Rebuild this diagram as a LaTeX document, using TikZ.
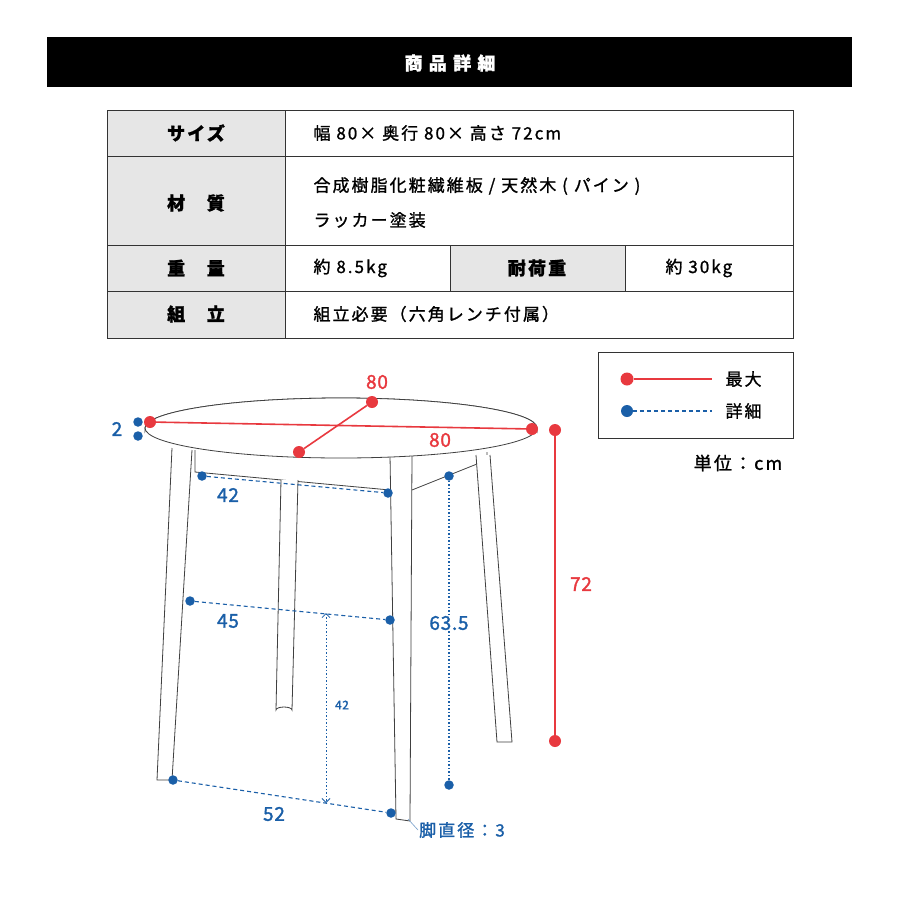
\documentclass[tikz,border=0pt]{standalone}
\usepackage{fontspec}
\setmainfont[LetterSpace=12,FakeBold=1.2]{Noto Sans CJK JP}
\newfontfamily\numfont[LetterSpace=4,FakeBold=1.5]{Noto Sans CJK JP}
\usetikzlibrary{arrows.meta}
\definecolor{rd}{HTML}{E8393F}
\definecolor{bl}{HTML}{1A5FA8}
\definecolor{gr}{HTML}{E6E6E6}
\begin{document}
\begin{tikzpicture}[x=1pt,y=-1pt,
  cell/.style={draw=black!80,line width=1pt},
  txt/.style={anchor=west,font=\fontsize{17}{22}\selectfont},
  lab/.style={font=\fontsize{18}{22}\selectfont\bfseries},
  ln/.style={draw=black!75,line width=0.8pt},
  rdot/.style={circle,fill=rd,inner sep=0pt,minimum size=12pt},
  bdot/.style={circle,fill=bl,inner sep=0pt,minimum size=9.5pt},
  rline/.style={draw=rd,line width=1.6pt},
  bline/.style={draw=bl,line width=1.1pt,dash pattern=on 4pt off 3pt},
  bdots/.style={draw=bl,line width=1.1pt,dash pattern=on 1.5pt off 2pt},
  rnum/.style={text=rd,font=\numfont\fontsize{19}{20}\selectfont},
  bnum/.style={text=bl,font=\numfont\fontsize{19}{20}\selectfont}]
\useasboundingbox (0,0) rectangle (900,900);
\fill[white] (0,0) rectangle (900,900);
% header
\fill[black] (47,37) rectangle (852,87);
\node[text=white,font=\fontsize{18}{20}\selectfont\bfseries] (hd) at (450,63) {商\hspace{0.35em}品\hspace{0.35em}詳\hspace{0.35em}細};
% table
\fill[gr] (107,110) rectangle (285,338);
\fill[gr] (450,245) rectangle (625,291);
\draw[cell] (107,110) rectangle (793,338);
\draw[cell] (107,156) -- (793,156) (107,245) -- (793,245) (107,291) -- (793,291);
\draw[cell] (285,110) -- (285,338) (450,245) -- (450,291) (625,245) -- (625,291);
\node[lab] (l1) at (196,133) {サイズ};
\node[lab] (l2) at (196,203) {材\hspace{1.2em}質};
\node[lab] (l3) at (196,268) {重\hspace{1.2em}量};
\node[lab] (l4) at (196,314) {組\hspace{1.2em}立};
\node[lab] (l5) at (537,268) {耐荷重};
\node[txt] (t1) at (310,133) {幅 80× 奥行 80× 高さ 72cm};
\node[txt] (t2) at (310,186) {合成樹脂化粧繊維板 / 天然木 ( パイン )};
\node[txt] (t3) at (310,220) {ラッカー塗装};
\node[txt] (t4) at (310,268) {約 8.5kg};
\node[txt] (t5) at (662,268) {約 30kg};
\node[txt] (t6) at (310,314) {組立必要（六角レンチ付属）};
% legend
\draw[cell] (598,352) rectangle (793,438);
\node[rdot,minimum size=13pt] (lr1) at (627,379) {};
\coordinate (lr2) at (712,379);
\draw[rline] (lr1) -- (lr2);
\node[txt] (lg1) at (722,379) {最大};
\node[bdot,minimum size=12pt] (lb1) at (627,411) {};
\coordinate (lb2) at (712,411);
\draw[bline] (lb1) -- (lb2);
\node[txt] (lg2) at (722,411) {詳細};
\node[font=\fontsize{18}{20}\selectfont] (unit) at (738,463) {単位：cm};
% table drawing
\draw[ln] (195,450) -- (195,472) -- (390,490);
\draw[ln] (412,490) -- (487,460) -- (487,452);
% legs
\draw[ln,fill=white] (281,480) -- (276,710) arc[start angle=180,end angle=360,x radius=8,y radius=3] -- (298,480);
\draw[ln,fill=white] (476,455) -- (497,742) -- (512,742) -- (490,455);
\draw[ln,fill=white] (172,448) -- (157,780) -- (172,780) -- (192,450);
\draw[ln,fill=white] (390,455) -- (396,819) -- (410,821) -- (412,455);
% top
\draw[ln,fill=white] (145,428) arc[start angle=180,end angle=360,x radius=196,y radius=30] -- (537,431) arc[start angle=0,end angle=-180,x radius=196,y radius=30] -- cycle;
\draw[ln,fill=white] (341,428) ellipse[x radius=196,y radius=30];
% red dims
\node[rdot] (a1) at (150,422) {};
\node[rdot] (a2) at (532,429) {};
\draw[rline] (a1) -- (a2);
\node[rdot] (b1) at (372,402) {};
\node[rdot] (b2) at (299,452) {};
\draw[rline] (b1) -- (b2);
\node[rnum] (n80a) at (377,382) {80};
\node[rnum] (n80b) at (440,440) {80};
\node[rdot] (h1) at (555,430) {};
\node[rdot] (h2) at (555,741) {};
\draw[rline] (h1) -- (h2);
\node[rnum] (n72) at (581,584) {72};
% blue dims
\node[bdot] (t2a) at (138,422) {};
\node[bdot] (t2b) at (138,436) {};
\node[bnum] (n2) at (117,429) {2};
\node[bdot] (d1) at (202,476) {};
\node[bdot] (d2) at (388,493) {};
\draw[bline] (d1) -- (d2);
\node[bnum] (n42) at (228,495) {42};
\node[bdot] (e1) at (190,601) {};
\node[bdot] (e2) at (390,620) {};
\draw[bline] (e1) -- (e2);
\node[bnum] (n45) at (228,621) {45};
\node[bdot] (f1) at (173,780) {};
\node[bdot] (f2) at (391,813) {};
\draw[bline] (f1) -- (f2);
\node[bnum] (n52) at (274,814) {52};
\node[bdot] (g1) at (449,476) {};
\node[bdot] (g2) at (449,785) {};
\draw[bdots] (g1) -- (g2);
\node[bnum,fill=white,inner sep=1pt] (n635) at (449,623) {63.5};
\coordinate (k1) at (326,613);
\coordinate (k2) at (326,803);
\draw[bdots,{Straight Barb[length=4pt]}-{Straight Barb[length=4pt]},line width=0.8pt] (k1) -- (k2);
\node[text=bl,font=\numfont\fontsize{12}{14}\selectfont] (n42s) at (342,705) {42};
\coordinate (m1) at (408,819);
\node[text=bl,font=\fontsize{17}{20}\selectfont,anchor=west,inner sep=1pt] (leg) at (418,830) {脚直径：3};
\draw[bl!60,line width=0.6pt] (m1) -- (leg.west);
\end{tikzpicture}
\end{document}
